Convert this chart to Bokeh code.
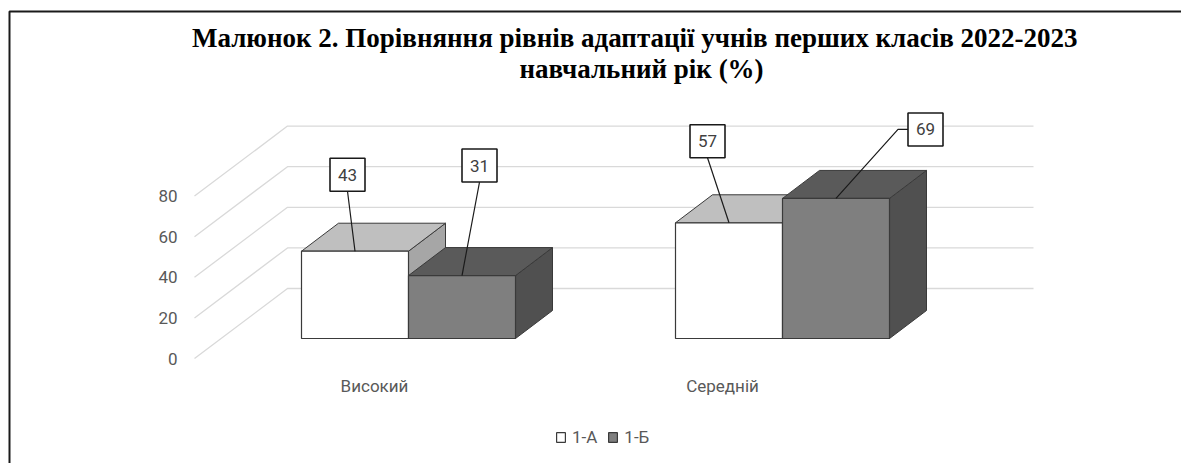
import numpy as np
from bokeh.plotting import figure
from bokeh.models import Range1d, Label, Legend, LegendItem
from bokeh.core.properties import value
from bokeh.embed import file_html
from bokeh.resources import INLINE

# ---------------- data ----------------
categories = ["Високий", "Середній"]
series_names = ["1-А", "1-Б"]
values_1a = [43, 57]
values_1b = [31, 69]
y_ticks = [0, 20, 40, 60, 80]
title_line1 = "Малюнок 2. Порівняння рівнів  адаптації учнів перших  класів 2022-2023"
title_line2 = "навчальний рік (%)"

# ---------------- layout ----------------
W, H = 1181, 463
PX_X = 374.0      # px per category step
PX_Y = 2.03       # px per percent
X0_PX = 408       # px (from left) of first category centre
Y0_PX = 358       # px (from top) of the front-plane zero

def dx(px):
    return px / PX_X

def dy(px):
    return px / PX_Y

def fx(px_from_left):
    return (px_from_left - X0_PX) / PX_X

def fy(px_from_top):
    return (Y0_PX - px_from_top) / PX_Y

p = figure(width=W, height=H, output_backend="svg", toolbar_location=None,
           x_axis_type=None, y_axis_type=None, min_border=0,
           x_range=Range1d(fx(0), fx(W)), y_range=Range1d(fy(H), fy(0)))
p.outline_line_color = None
p.background_fill_color = "white"
p.border_fill_color = "white"

TXT = "#595959"
FONT = value("Roboto")

# border (left & top)
p.line(x=[fx(9), fx(9), fx(W + 5)], y=[fy(H + 5), fy(11), fy(11)],
       line_color="#1a1a1a", line_width=2)

# ---------------- gridlines (3D walls) ----------------
FLOOR_DX, FLOOR_DY = dx(93), dy(70)
gx0 = fx(194)
gx_end = fx(1033)
gxs, gys = [], []
for t in y_ticks:
    gxs.append([gx0, gx0 + FLOOR_DX, gx_end])
    gys.append([t, t + FLOOR_DY, t + FLOOR_DY])
p.multi_line(gxs, gys, line_color="#D9D9D9", line_width=1.3)

# y tick labels
p.text(x=[fx(177)] * len(y_ticks), y=y_ticks, text=[str(t) for t in y_ticks],
       text_align="right", text_baseline="middle", text_font=FONT,
       text_font_size="17px", text_color=TXT)

# ---------------- 3D bars ----------------
cats = np.arange(len(categories), dtype=float)
BW = dx(107)
BASE = dy(20)
DEPTH_X, DEPTH_Y = dx(37), dy(28)
EDGE = "#3a3a3a"

styles = [
    dict(front="#FFFFFF", top="#BFBFBF", side="#A6A6A6"),
    dict(front="#7F7F7F", top="#5A5A5A", side="#505050"),
]
all_vals = [values_1a, values_1b]
front_renderers = []
tops_info = []
for s, (vals, st) in enumerate(zip(all_vals, styles)):
    vals = np.array(vals, dtype=float)
    left = cats - BW + s * BW
    right = left + BW
    top = BASE + vals
    bottom = np.full_like(vals, BASE)
    side_xs = [[r, r + DEPTH_X, r + DEPTH_X, r] for r in right]
    side_ys = [[b, b + DEPTH_Y, t + DEPTH_Y, t] for b, t in zip(bottom, top)]
    top_xs = [[l, r, r + DEPTH_X, l + DEPTH_X] for l, r in zip(left, right)]
    top_ys = [[t, t, t + DEPTH_Y, t + DEPTH_Y] for t in top]
    p.patches(side_xs, side_ys, fill_color=st["side"], line_color=EDGE, line_width=1)
    p.patches(top_xs, top_ys, fill_color=st["top"], line_color=EDGE, line_width=1)
    r = p.quad(left=left, right=right, bottom=bottom, top=top,
               fill_color=st["front"], line_color=EDGE, line_width=1.2)
    front_renderers.append(r)
    tops_info.append(((left + right) / 2, top, vals))

# ---------------- data labels with leader lines ----------------
# offsets (px) of label box centre from bar front-top centre: [series][category]
label_off = [[(-7.5, 76.5), (-21.5, 81.5)],
             [(17.5, 110.0), (89.5, 69.0)]]
BOX_W, BOX_H = 35, 33
bx, by, btxt, lxs, lys = [], [], [], [], []
for s, (cx, ty, vals) in enumerate(tops_info):
    for i in range(len(categories)):
        ox, oy = label_off[s][i]
        X = cx[i] + dx(ox)
        Y = ty[i] + dy(oy)
        bx.append(X)
        by.append(Y)
        btxt.append(str(int(vals[i])))
        if ox > 40:
            lxs.append([X - dx(BOX_W / 2), X - dx(BOX_W / 2 + 10), cx[i]])
            lys.append([Y, Y, ty[i]])
        else:
            lxs.append([X, cx[i]])
            lys.append([Y - dy(BOX_H / 2), ty[i]])
p.multi_line(lxs, lys, line_color="#1a1a1a", line_width=1.2)
p.rect(x=bx, y=by, width=BOX_W, height=BOX_H, width_units="screen",
       height_units="screen", fill_color="white", line_color="#1a1a1a", line_width=1.6)
p.text(x=bx, y=by, text=btxt, text_align="center", text_baseline="middle",
       text_font=FONT, text_font_size="17px", text_color="#404040")

# ---------------- category labels ----------------
cat_shift_px = np.array([-34, -60])
p.text(x=cats + cat_shift_px / PX_X, y=[fy(385)] * len(categories), text=categories,
       text_align="center", text_baseline="middle", text_font=FONT,
       text_font_size="17px", text_color=TXT)

# ---------------- title ----------------
for txt, ytop in [(title_line1, 37), (title_line2, 68)]:
    p.add_layout(Label(x=641, y=H - ytop, x_units="screen", y_units="screen", text=txt,
                       text_align="center", text_baseline="middle",
                       text_font="Liberation Serif", text_font_style="bold",
                       text_font_size="27px", text_color="#000000"))

# ---------------- legend ----------------
legend = Legend(items=[LegendItem(label=n, renderers=[r]) for n, r in zip(series_names, front_renderers)],
                orientation="horizontal", location=(555, 16),
                glyph_width=11, glyph_height=12, label_standoff=6, spacing=10,
                padding=0, margin=0, border_line_color=None, background_fill_alpha=0,
                label_text_font="Roboto", label_text_font_size="17px",
                label_text_color=TXT)
p.add_layout(legend)

open("out.html", "w").write(file_html(p, INLINE))
